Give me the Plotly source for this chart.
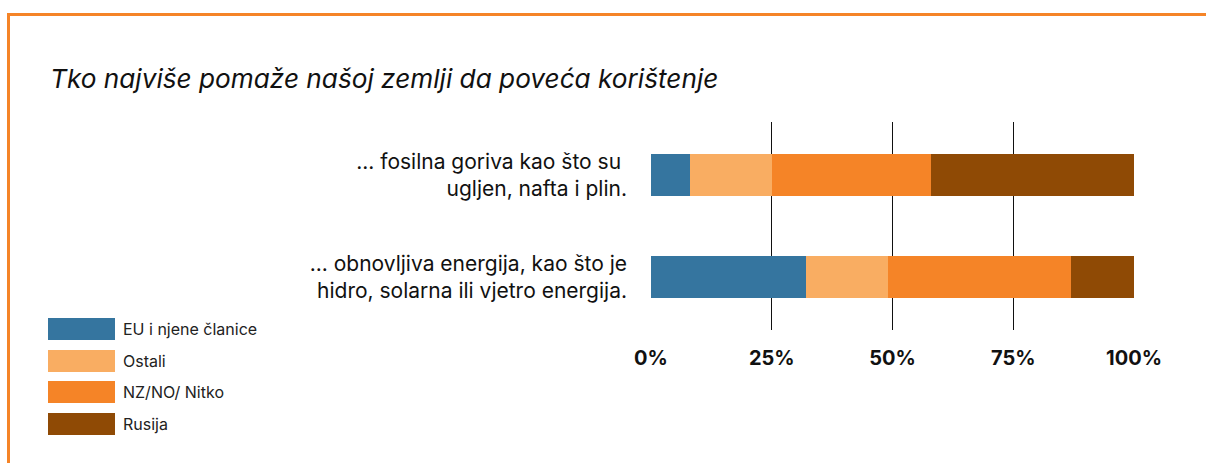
import plotly.graph_objects as go

W, H = 1206, 463

categories = ["... obnovljiva energija, kao što je<br>hidro, solarna ili vjetro energija.",
              "... fosilna goriva kao što su <br>ugljen, nafta i plin."]
series_names = ["EU i njene članice", "Ostali", "NZ/NO/ Nitko", "Rusija"]
# values per series: [renewable, fossil]
eu = [32, 8]
ostali = [17, 17]
nz = [38, 33]
rusija = [13, 42]
series_values = [eu, ostali, nz, rusija]
colors = ["#35759f", "#f9ad62", "#f58427", "#8f4a05"]
tick_vals = [0, 25, 50, 75, 100]
tick_labels = ["0%", "25%", "50%", "75%", "100%"]
title = "Tko najviše pomaže našoj zemlji da poveća korištenje"

FONT = "Inter"

def px_x(x):
    return x / W

def px_y(y):
    return 1 - y / H

fig = go.Figure()
ypos = [0, 1]
for name, vals, col in zip(series_names, series_values, colors):
    fig.add_trace(go.Bar(
        x=vals, y=ypos, orientation="h", name=name,
        marker=dict(color=col, line=dict(width=0)),
        width=0.41, showlegend=False, hoverinfo="skip",
    ))

shapes = [
    # frame
    dict(type="line", xref="paper", yref="paper", x0=px_x(8.5), x1=px_x(8.5),
         y0=px_y(13), y1=px_y(470), line=dict(color="#f58427", width=3)),
    dict(type="line", xref="paper", yref="paper", x0=px_x(7), x1=px_x(1210),
         y0=px_y(14.5), y1=px_y(14.5), line=dict(color="#f58427", width=3)),
]
annotations = [
    dict(text="<i>" + title + "</i>", xref="paper", yref="paper",
         x=px_x(48), y=px_y(78), xanchor="left", yanchor="middle",
         showarrow=False, font=dict(family=FONT, size=26.2, color="#111111")),
]
# manual legend with large swatches
leg_top = [318, 350, 381, 413]
for name, col, t in zip(series_names, colors, leg_top):
    shapes.append(dict(type="rect", xref="paper", yref="paper",
                       x0=px_x(48), x1=px_x(115), y0=px_y(t + 22), y1=px_y(t),
                       fillcolor=col, line=dict(width=0)))
    annotations.append(dict(text=name, xref="paper", yref="paper",
                            x=px_x(121), y=px_y(t + 11), xanchor="left", yanchor="middle",
                            showarrow=False, font=dict(family=FONT, size=16, color="#222222")))

fig.update_layout(
    width=W, height=H,
    margin=dict(l=0, r=0, t=0, b=0, pad=0),
    paper_bgcolor="white", plot_bgcolor="white",
    barmode="stack", bargap=0,
    showlegend=False,
    shapes=shapes, annotations=annotations,
    xaxis=dict(domain=[px_x(651), px_x(1134)], range=[0, 100],
               tickvals=tick_vals, ticktext=tick_labels, automargin=False,
               showgrid=True, gridcolor="#111111", gridwidth=1,
               zeroline=False, showline=False,
               ticks="outside", ticklen=0, ticklabelstandoff=10,
               tickfont=dict(family=FONT, size=20, color="#111111", weight="bold")),
    yaxis=dict(domain=[px_y(330), px_y(122)], range=[-0.52, 1.52],
               tickvals=ypos, ticktext=categories, automargin=False,
               showgrid=False, zeroline=False, showline=False,
               ticks="", ticklabelstandoff=23,
               tickfont=dict(family=FONT, size=21, color="#111111")),
)
fig.write_html(
    "out.html",
    config={"displayModeBar": False},
    post_script="document.body.style.margin='0';document.body.style.overflow='hidden';",
)
